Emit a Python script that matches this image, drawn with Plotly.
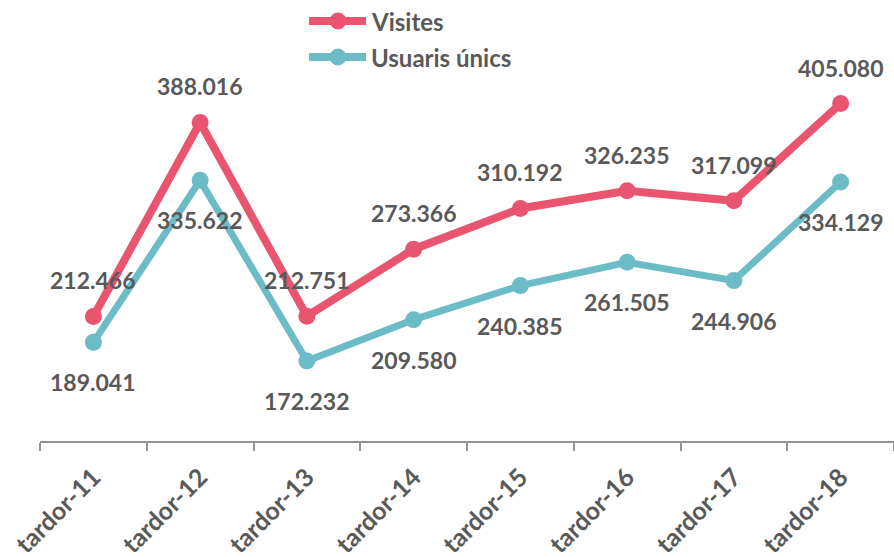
import plotly.graph_objects as go

categories = ["tardor-11", "tardor-12", "tardor-13", "tardor-14",
              "tardor-15", "tardor-16", "tardor-17", "tardor-18"]
visites = [212466, 388016, 212751, 273366, 310192, 326235, 317099, 405080]
usuaris = [189041, 335622, 172232, 209580, 240385, 261505, 244906, 334129]
series_names = ["Visites", "Usuaris únics"]

PINK = "#E9546F"
TEAL = "#6BBCC6"
GRAY = "#595959"
FONT = "Lato"

W, H = 894, 557
ML, MR, MT, MB = 40, 0, 0, 116


def fmt(v):
    return f"{v:,}".replace(",", ".")


fig = go.Figure()
fig.add_trace(go.Scatter(x=categories, y=visites, mode="lines+markers",
                         line=dict(color=PINK, width=8),
                         marker=dict(color=PINK, size=17),
                         name=series_names[0], showlegend=False))
fig.add_trace(go.Scatter(x=categories, y=usuaris, mode="lines+markers",
                         line=dict(color=TEAL, width=7),
                         marker=dict(color=TEAL, size=17),
                         name=series_names[1], showlegend=False))

annotations = []
for c, v in zip(categories, visites):
    annotations.append(dict(x=c, y=v, xref="x", yref="y", text=fmt(v),
                            showarrow=False, yshift=36,
                            font=dict(family=FONT, size=23, color=GRAY, weight="bold")))
for c, v in zip(categories, usuaris):
    annotations.append(dict(x=c, y=v, xref="x", yref="y", text=fmt(v),
                            showarrow=False, yshift=-40,
                            font=dict(family=FONT, size=23, color=GRAY, weight="bold")))

# custom legend (paper coordinates)
pw = W - ML - MR
ph = H - MT - MB


def px_x(p):
    return (p - ML) / pw


def px_y(p):
    return (H - MB - p) / ph


shapes = []
for name, col, rowy in [(series_names[0], PINK, 21), (series_names[1], TEAL, 57)]:
    yy = px_y(rowy)
    shapes.append(dict(type="line", xref="paper", yref="paper",
                       x0=px_x(309), x1=px_x(366), y0=yy, y1=yy,
                       line=dict(color=col, width=8)))
    shapes.append(dict(type="circle", xref="paper", yref="paper",
                       xsizemode="pixel", ysizemode="pixel",
                       xanchor=px_x(338), yanchor=yy,
                       x0=-8, x1=8, y0=-8, y1=8,
                       fillcolor=col, line=dict(color=col, width=1)))
    annotations.append(dict(x=px_x(369), y=yy, xref="paper", yref="paper",
                            xanchor="left", yanchor="middle", text=name,
                            showarrow=False,
                            font=dict(family=FONT, size=24, color=GRAY, weight="bold")))

fig.update_layout(
    width=W, height=H,
    margin=dict(l=ML, r=MR, t=MT, b=MB, pad=0, autoexpand=False),
    paper_bgcolor="white", plot_bgcolor="white",
    showlegend=False,
    annotations=annotations,
    shapes=shapes,
    xaxis=dict(type="category", range=[-0.5, 7.5], showline=True,
               automargin=False,
               linecolor="#939393", linewidth=1.5, ticks="outside",
               tickson="boundaries", ticklen=8, tickwidth=1.5,
               tickcolor="#939393", tickangle=-45, showgrid=False,
               zeroline=False, ticklabelstandoff=10,
               tickfont=dict(family=FONT, size=25, color=GRAY, weight="bold")),
    yaxis=dict(range=[99800, 498800], visible=False, showgrid=False,
               zeroline=False, automargin=False),
)

fig.write_html("out.html", config={"displayModeBar": False},
               post_script="document.body.style.margin='0';document.body.style.overflow='hidden';")
